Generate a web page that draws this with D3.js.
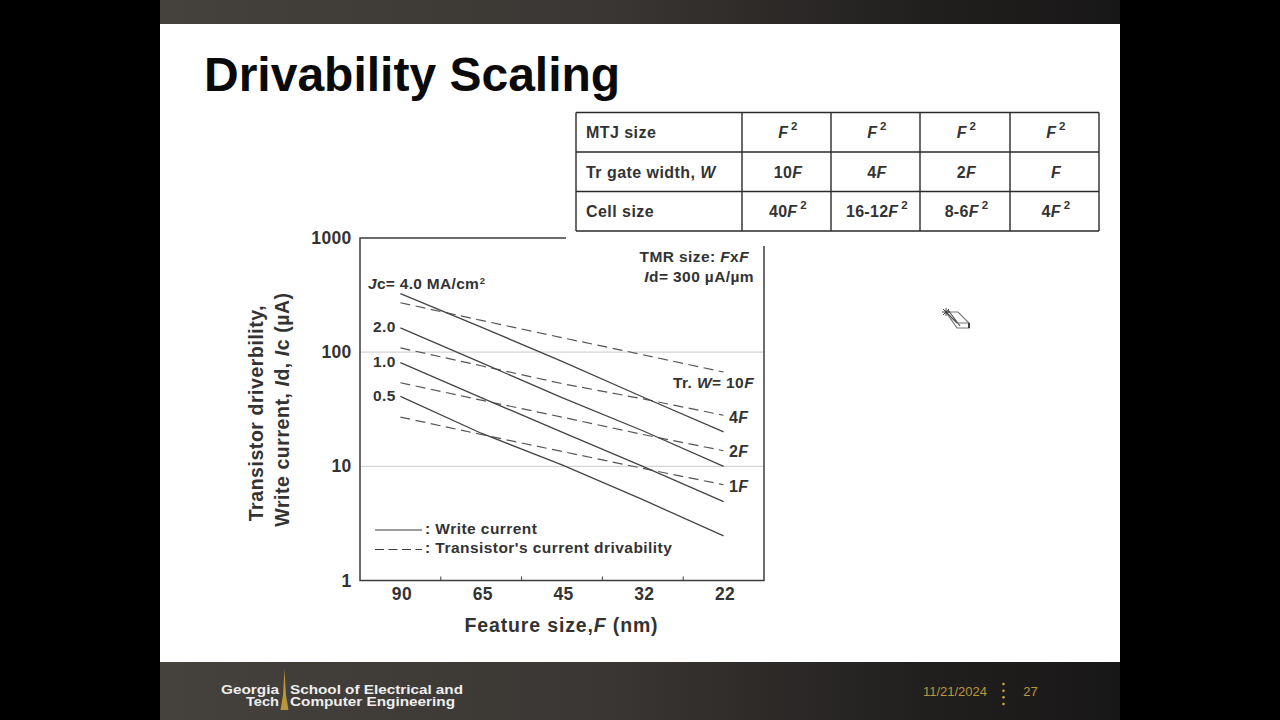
<!DOCTYPE html>
<html>
<head>
<meta charset="utf-8">
<title>Drivability Scaling</title>
<script src="https://cdnjs.cloudflare.com/ajax/libs/d3/7.8.5/d3.min.js"></script>
<style>
html,body{margin:0;padding:0;background:#000;overflow:hidden}
svg{display:block}
text{font-family:"Liberation Sans",Arial,sans-serif}
</style>
</head>
<body>
<svg id="slide" width="1280" height="720"></svg>
<script>
// Feature-size categories and decade ticks
const featureSizes = ["90", "65", "45", "32", "22"];
const decades = [1, 10, 100, 1000];

// Write current (uA) for each critical current density
const write40 = [326, 166, 83, 40.5, 20];
const write20 = [163, 81, 40, 20.5, 10];
const write10 = [81, 40, 19.9, 10, 4.9];
const write05 = [41, 19.5, 10.3, 5.1, 2.46];

// Transistor drivability (uA) for each gate width
const drive10F = [271, 190, 134, 95, 67];
const drive4F = [109, 76, 53, 39, 28];
const drive2F = [54, 38, 27, 19, 13.7];
const drive1F = [27, 19, 13.5, 9.6, 6.9];

const writeSeries = [write40, write20, write10, write05];
const driveSeries = [drive10F, drive4F, drive2F, drive1F];

// Table contents; _x_ marks italics and ^x marks a raised superscript
const tableRows = [
  ["MTJ size", "_F_^2", "_F_^2", "_F_^2", "_F_^2"],
  ["Tr gate width, _W_", "10_F_", "4_F_", "2_F_", "_F_"],
  ["Cell size", "40_F_^2", "16-12_F_^2", "8-6_F_^2", "4_F_^2"]
];
const tableColumns = [576, 742, 831, 920, 1010, 1099];
const tableLines = [112.5, 152, 191.5, 231];

const ink = "#333333";
const svg = d3.select("#slide");
const defs = svg.append("defs");

function hGradient(id, stops) {
  const g = defs.append("linearGradient").attr("id", id);
  stops.forEach(([o, c]) => g.append("stop").attr("offset", o).attr("stop-color", c));
}
hGradient("footerFill", [["0", "#45413d"], ["0.45", "#3a3734"], ["0.8", "#211f1e"], ["1", "#181717"]]);
hGradient("headerFill", [["0", "#45413d"], ["0.45", "#3a3734"], ["0.8", "#211f1e"], ["1", "#181717"]]);

// Writes a string with the inline markup as styled tspans
function richText(sel, str, sup) {
  const s = sup || { dx: "0.05em", dy: "-0.55em", size: "0.6em" };
  const parts = str.match(/_[^_]+_|\^[^ ]|[^_^]+/g) || [];
  parts.forEach(p => {
    if (p[0] === "_") {
      sel.append("tspan").attr("font-style", "italic").text(p.slice(1, -1));
    } else if (p[0] === "^") {
      sel.append("tspan").attr("dx", s.dx).attr("dy", s.dy).attr("font-size", s.size).text(p.slice(1));
    } else {
      sel.append("tspan").text(p);
    }
  });
  return sel;
}
function label(x, y, str, size, anchor, spacing, sup) {
  return richText(svg.append("text")
    .attr("x", x).attr("y", y)
    .attr("font-size", size)
    .attr("font-weight", "bold")
    .attr("fill", ink)
    .attr("letter-spacing", spacing === undefined ? 0.4 : spacing)
    .attr("text-anchor", anchor || "start")
    .style("white-space", "pre"), str, sup);
}

// Slide frame
svg.append("rect").attr("width", 1280).attr("height", 720).attr("fill", "#000");
svg.append("rect").attr("x", 160).attr("y", 0).attr("width", 960).attr("height", 24).attr("fill", "url(#headerFill)");
svg.append("rect").attr("x", 160).attr("y", 24).attr("width", 960).attr("height", 638).attr("fill", "#fff");
svg.append("rect").attr("x", 160).attr("y", 662).attr("width", 960).attr("height", 58).attr("fill", "url(#footerFill)");

svg.append("text").attr("x", 204).attr("y", 91)
  .attr("font-size", 48).attr("font-weight", "bold").attr("fill", "#0a0a0a")
  .text("Drivability Scaling");

// Plot scales
const x = d3.scaleBand().domain(featureSizes).range([360, 764]);
const y = d3.scaleLog().domain([1, 1000]).range([580.5, 238]);
const px = d => x(d) + x.bandwidth() / 2;

// Horizontal decade rules
svg.append("g").selectAll("line").data([10, 100]).join("line")
  .attr("x1", 360).attr("x2", 764)
  .attr("y1", d => y(d)).attr("y2", d => y(d))
  .attr("stroke", "#d4d4d4").attr("stroke-width", 1.4);

// Plot frame
const frame = svg.append("g").attr("fill", "none")
  .attr("stroke", "#3c3c3c").attr("stroke-width", 1.5);
frame.append("path").attr("d", d3.line()([[566, y(1000)], [360, y(1000)], [360, y(1)], [764, y(1)], [764, 246]]));

// Minor ticks between categories on the bottom edge
svg.append("g").selectAll("line").data(featureSizes.slice(1)).join("line")
  .attr("x1", d => x(d)).attr("x2", d => x(d))
  .attr("y1", y(1)).attr("y2", y(1) - 4)
  .attr("stroke", "#3c3c3c").attr("stroke-width", 1);

// Axis tick labels
const styleTicks = g => {
  g.select(".domain").remove();
  g.selectAll("text").attr("font-size", 17.5).attr("font-weight", "bold")
    .attr("letter-spacing", 0.3)
    .attr("font-family", "Liberation Sans").attr("fill", ink);
};
const bottomAxis = d3.axisBottom(x).tickSize(0).tickPadding(7);
svg.append("g").attr("transform", `translate(1.5,${y(1)})`).call(bottomAxis).call(styleTicks);

const leftAxis = d3.axisLeft(y).tickValues(decades).tickFormat(d3.format("d")).tickSize(0).tickPadding(8.5);
svg.append("g").attr("transform", "translate(360,0)").call(leftAxis).call(styleTicks);

// Series lines
const line = d3.line().x((d, i) => px(featureSizes[i])).y(d => y(d));
svg.append("g").selectAll("path").data(driveSeries).join("path")
  .attr("d", line).attr("fill", "none")
  .attr("stroke", "#555").attr("stroke-width", 1.2).attr("stroke-dasharray", "10 5.5");
svg.append("g").selectAll("path").data(writeSeries).join("path")
  .attr("d", line).attr("fill", "none")
  .attr("stroke", "#444").attr("stroke-width", 1.3);

// Annotations inside the plot
label(368, 289, "_J_c= 4.0 MA/cm^2", 15.5, "start", 0.3);
label(373, 332, "2.0", 15.5);
label(373, 367, "1.0", 15.5);
label(373, 401, "0.5", 15.5);
label(749, 262, "TMR size: _F_x_F_", 15.5, "end");
label(754, 282, "_I_d= 300 \u00b5A/\u00b5m", 15.5, "end");
label(754, 388, "Tr. _W_= 10_F_", 15.5, "end");
label(729, 423, "4_F_", 16);
label(729, 457, "2_F_", 16);
label(729, 492, "1_F_", 16);

// Legend
svg.append("line").attr("x1", 375).attr("x2", 422).attr("y1", 530).attr("y2", 530)
  .attr("stroke", "#3a3a3a").attr("stroke-width", 1.2);
svg.append("line").attr("x1", 375).attr("x2", 422).attr("y1", 549.5).attr("y2", 549.5)
  .attr("stroke", "#3a3a3a").attr("stroke-width", 1.2).attr("stroke-dasharray", "9 4.5");
label(425, 534, ": Write current", 15.5, "start", 0.45);
label(425, 553, ": Transistor's current drivability", 15.5, "start", 0.45);

// Axis titles
const sideTitle = (tx, ty, str) => svg.append("g")
  .attr("transform", `translate(${tx},${ty}) rotate(-90)`)
  .call(g => richText(g.append("text").attr("text-anchor", "middle")
    .attr("font-size", 19.5).attr("font-weight", "bold").attr("letter-spacing", 0.55)
    .attr("fill", ink), str));
sideTitle(263, 413, "Transistor driverbility,");
sideTitle(289, 409.5, "Write current, _I_d, _I_c (\u00b5A)");
label(561.5, 632, "Feature size,_F_ (nm)", 19.5, "middle", 0.85);

// Table backing hides the top of the plot frame behind it
svg.append("rect").attr("x", 566).attr("y", 112).attr("width", 198).attr("height", 134).attr("fill", "#fff");

const grid = svg.append("g").attr("stroke", "#2a2a2a").attr("stroke-width", 1.4);
grid.selectAll(".h").data(tableLines).join("line").attr("class", "h")
  .attr("x1", tableColumns[0]).attr("x2", tableColumns[5])
  .attr("y1", d => d).attr("y2", d => d);
grid.selectAll(".v").data(tableColumns).join("line").attr("class", "v")
  .attr("y1", tableLines[0]).attr("y2", tableLines[3])
  .attr("x1", d => d).attr("x2", d => d);

const tableSup = { dx: "0.25em", dy: "-0.75em", size: "0.72em" };
tableRows.forEach((row, r) => {
  const base = (tableLines[r] + tableLines[r + 1]) / 2 + 6;
  row.forEach((cell, c) => {
    if (c === 0) label(tableColumns[0] + 10, base, cell, 16, "start", 0.45);
    else label((tableColumns[c] + tableColumns[c + 1]) / 2 + 1.5, base, cell, 16, "middle", 0.3, tableSup);
  });
});

// Footer
svg.append("path")
  .attr("d", "M284.5 669 L286 695 L288.5 710 L280.5 710 L283 695 Z")
  .attr("fill", "#b8963c");
const footerText = (tx, ty, str, anchor, len) => svg.append("text")
  .attr("x", tx).attr("y", ty).attr("text-anchor", anchor)
  .attr("font-size", 12).attr("font-weight", "bold").attr("fill", "#eeeeee")
  .attr("font-family", "Liberation Sans")
  .attr("textLength", len).attr("lengthAdjust", "spacingAndGlyphs").text(str);
footerText(279, 693.5, "Georgia", "end", 58);
footerText(279, 705.5, "Tech", "end", 33);
footerText(290, 693.5, "School of Electrical and", "start", 173);
footerText(290, 705.5, "Computer Engineering", "start", 165);

svg.append("text").attr("x", 955).attr("y", 695.5).attr("text-anchor", "middle")
  .attr("font-size", 13).attr("fill", "#b9973f").text("11/21/2024");
svg.append("text").attr("x", 1030.5).attr("y", 695.5).attr("text-anchor", "middle")
  .attr("font-size", 13).attr("fill", "#b9973f").text("27");
svg.append("g").selectAll("circle").data([684, 690.7, 697.3, 704]).join("circle")
  .attr("cx", 1003.5).attr("cy", d => d).attr("r", 1.3).attr("fill", "#c8a545");

// Eraser-shaped pointer
const cursor = svg.append("g").attr("fill", "none").attr("stroke", "#777");
cursor.append("path").attr("d", "M946 312 L958 312 L969 323 L969 328 L957 328 Z").attr("fill", "#fff").attr("stroke-width", 1.2);
cursor.append("path").attr("d", "M946 312 L957 323 M948 310 L960 326").attr("stroke", "#555").attr("stroke-width", 1.2);
cursor.append("path").attr("d", "M957 323 L969 323").attr("stroke-width", 1);
cursor.append("path").attr("d", "M942 312 L950 312 M946 308 L946 316 M943 309 L949 315 M949 309 L943 315").attr("stroke", "#333").attr("stroke-width", 0.9);
cursor.append("path").attr("d", "M969 323 L969 328").attr("stroke", "#222").attr("stroke-width", 1.6);
</script>
</body>
</html>
